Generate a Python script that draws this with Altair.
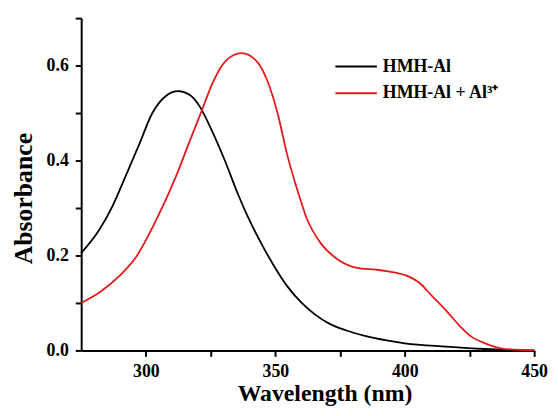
import altair as alt
import pandas as pd

# Series: HMH-Al
wl_hmh = [275, 282, 287, 292, 297.5, 302.5, 305, 307.5, 312.5, 317, 321, 325, 330.5, 335.5, 339.5, 344.5, 349.5, 354.5, 360, 365, 371, 377.5, 385, 393, 400, 416, 431, 450]
abs_hmh = [0.205, 0.254, 0.303, 0.365, 0.435, 0.500, 0.521, 0.535, 0.546, 0.538, 0.512, 0.469, 0.400, 0.330, 0.280, 0.226, 0.178, 0.136, 0.101, 0.077, 0.056, 0.042, 0.030, 0.021, 0.015, 0.008, 0.003, 0.000]

# Series: HMH-Al + Al3+
wl_al = [275, 282, 290, 296, 304, 311.5, 316.5, 321.5, 325.5, 330.5, 337, 343, 347, 351, 354.5, 358.5, 362, 367.5, 374, 381.5, 389, 393, 400.5, 405.5, 410.5, 416, 421, 426, 431, 437.5, 450]
abs_al = [0.100, 0.122, 0.158, 0.195, 0.275, 0.365, 0.435, 0.504, 0.560, 0.608, 0.626, 0.608, 0.567, 0.497, 0.414, 0.338, 0.280, 0.226, 0.192, 0.174, 0.170, 0.167, 0.158, 0.143, 0.115, 0.084, 0.053, 0.028, 0.015, 0.004, 0.000]

series_names = ["HMH-Al", "HMH-Al + Al³⁺"]
series_colors = ["#000000", "#e31a1c"]

x_ticks = [300, 325, 350, 375, 400, 425, 450]
y_ticks = [0.0, 0.1, 0.2, 0.3, 0.4, 0.5, 0.6, 0.7]

df = pd.concat([
    pd.DataFrame({"wl": wl_hmh, "abs": abs_hmh, "series": series_names[0]}),
    pd.DataFrame({"wl": wl_al, "abs": abs_al, "series": series_names[1]}),
])

FONT = "Liberation Serif"

chart = alt.Chart(df).mark_line(interpolate="monotone", strokeWidth=1.8).encode(
    x=alt.X("wl:Q",
            scale=alt.Scale(domain=[275, 450], nice=False, zero=False),
            axis=alt.Axis(values=x_ticks, title="Wavelength (nm)",
                          labelExpr="datum.value % 50 == 0 ? datum.value : ''",
                          titleX=246, titleY=51, titleBaseline="alphabetic",
                          titleAlign="center")),
    y=alt.Y("abs:Q",
            scale=alt.Scale(domain=[0, 0.7], nice=False),
            axis=alt.Axis(values=y_ticks, title="Absorbance",
                          labelExpr="(round(datum.value*10) % 2 == 0 && datum.value < 0.65) ? format(datum.value, '.1f') : ''",
                          titleX=-50, titleY=182, titleAngle=270,
                          titleBaseline="alphabetic", titleAlign="center")),
    color=alt.Color("series:N",
                    scale=alt.Scale(domain=series_names, range=series_colors),
                    legend=alt.Legend(title=None, orient="none", legendX=262, legendY=33,
                                      symbolType="M-1.4,0H1.4", symbolSize=900,
                                      symbolStrokeWidth=2, labelFont=FONT,
                                      labelFontSize=18, labelFontWeight="bold",
                                      labelColor="#000000", labelOffset=11,
                                      rowPadding=2)),
).properties(
    width=458, height=336,
    autosize=alt.AutoSizeParams(type="none"),
    padding={"left": 74, "top": 8, "right": 16, "bottom": 56},
).configure_view(stroke=None).configure_axis(
    grid=False,
    domainColor="#000000", domainWidth=2,
    tickColor="#000000", tickWidth=2, tickSize=6,
    labelFont=FONT, labelFontSize=18, labelFontWeight="bold", labelColor="#000000",
    labelPadding=6,
    titleFont=FONT, titleFontSize=24, titleFontWeight="bold", titleColor="#000000",
    labelFlush=False, labelOverlap=False,
).configure_axisX(titleFontSize=24).configure_axisY(labelPadding=7, titleFontSize=26)

chart.save("out.html", embed_options={"renderer": "svg", "actions": False})
